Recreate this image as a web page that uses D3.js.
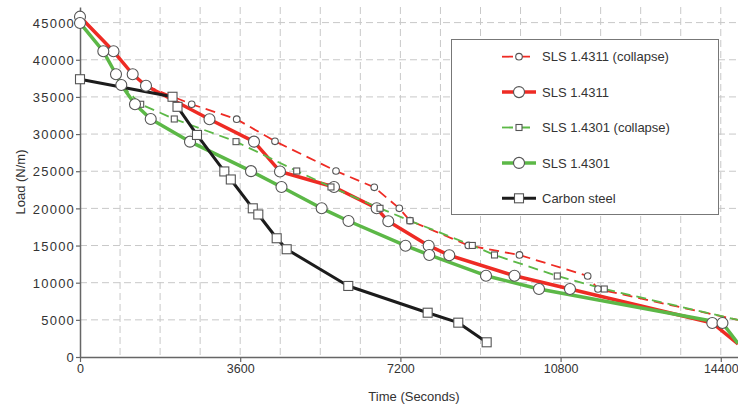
<!DOCTYPE html>
<html>
<head>
<meta charset="utf-8">
<script src="https://cdn.jsdelivr.net/npm/d3@7"></script>
<style>
  body { margin: 0; background: #fff; }
  text { font-family: "Liberation Sans", Arial, sans-serif; fill: #333; }
</style>
</head>
<body>
<div id="chart"></div>
<script>
// values (time in s, load in N/m)
const redDashTime = [1483, 2510, 3521, 4382, 5753, 6613, 7175, 7416, 8726, 9876, 11409, 11640, 14787];
const redDashLoad = [36500, 34010, 32000, 29030, 25030, 22840, 20010, 18340, 15010, 13730, 10900, 9150, 4980];

const redTime = [0, 753, 1184, 1483, 2910, 3910, 4494, 5708, 6667, 6928, 7836, 8299, 9764, 11011, 14209, 14787];
const redLoad = [45800, 41140, 38050, 36500, 31990, 28980, 24970, 22880, 20010, 18260, 14980, 13690, 10940, 9150, 4580, 1750];

const greenDashTime = [928, 1364, 2119, 3506, 4870, 5640, 6742, 7416, 8816, 9315, 10726, 11782, 14787];
const greenDashLoad = [36610, 34010, 32030, 28980, 25030, 22880, 20010, 18340, 15010, 13730, 10900, 9150, 4980];

const greenTime = [0, 524, 809, 928, 1236, 1589, 2472, 3843, 4528, 5431, 6034, 7315, 7849, 9124, 10315, 14438, 14787];
const greenLoad = [44950, 41140, 38050, 36610, 34010, 32030, 28980, 25010, 22880, 20010, 18300, 14980, 13730, 10940, 9150, 4580, 1840];

const carbonTime = [0, 2079, 2191, 2629, 3243, 3389, 3883, 4007, 4420, 4645, 6029, 7813, 8501, 9139];
const carbonLoad = [37380, 35020, 33670, 29880, 24970, 23890, 20010, 19180, 15980, 14500, 9560, 5960, 4620, 1980];

const xTicks = [0, 3600, 7200, 10800, 14400];
const yTicks = [0, 5000, 10000, 15000, 20000, 25000, 30000, 35000, 40000, 45000];

const width = 738, height = 405;
const red = "#ee2b24", green = "#5cb847", black = "#1c1c1c";

// series styles, in legend order
const series = [
  { name: "SLS 1.4311 (collapse)", t: redDashTime, v: redDashLoad, color: red, w: 1.8, dash: "10,6", mark: "circle", r: 3.3 },
  { name: "SLS 1.4311", t: redTime, v: redLoad, color: red, w: 3.5, dash: null, mark: "circle", r: 5.5 },
  { name: "SLS 1.4301 (collapse)", t: greenDashTime, v: greenDashLoad, color: green, w: 1.8, dash: "10,6", mark: "square", r: 3 },
  { name: "SLS 1.4301", t: greenTime, v: greenLoad, color: green, w: 3.5, dash: null, mark: "circle", r: 5.5 },
  { name: "Carbon steel", t: carbonTime, v: carbonLoad, color: black, w: 3, dash: null, mark: "square", r: 4.5 }
];

const svg = d3.select("#chart")
  .append("svg")
  .attr("width", width)
  .attr("height", height);

const xScale = d3.scaleLinear().domain([0, 14787]).range([80, 738]);
const yScale = d3.scaleLinear().domain([0, 47100]).range([357, 7]);

// dashed grid, every 900 s and every 5000 N/m
svg.append("g")
  .selectAll("line")
  .data(d3.range(900, 14787, 900))
  .join("line")
  .attr("x1", d => xScale(d)).attr("x2", d => xScale(d))
  .attr("y1", yScale(47100)).attr("y2", yScale(0))
  .attr("stroke", "#c8c8c8")
  .attr("stroke-dasharray", "7,4");

svg.append("g")
  .selectAll("line")
  .data(yTicks.slice(1))
  .join("line")
  .attr("x1", xScale(0)).attr("x2", xScale(14787))
  .attr("y1", d => yScale(d)).attr("y2", d => yScale(d))
  .attr("stroke", "#c8c8c8")
  .attr("stroke-dasharray", "7,4");

// axes
const xAxis = svg.append("g")
  .attr("transform", `translate(0, ${yScale(0)})`)
  .call(d3.axisBottom(xScale).tickValues(xTicks).tickSize(5).tickSizeOuter(0).tickFormat(d3.format("d")));
xAxis.selectAll("text").attr("y", 16).attr("dy", 0).style("font-size", "12.5px");

const yAxis = svg.append("g")
  .attr("transform", `translate(${xScale(0)}, 0)`)
  .call(d3.axisLeft(yScale).tickValues(yTicks).tickSize(4).tickSizeOuter(0).tickFormat(d3.format("d")));
yAxis.selectAll("text").attr("x", -5).attr("dy", "0.36em")
  .style("font-size", "13px").style("letter-spacing", "1.2px");

svg.selectAll(".domain").attr("stroke", "#666").attr("stroke-width", 1.5);
svg.selectAll(".tick line").attr("stroke", "#666").attr("stroke-width", 1.2);
svg.selectAll(".tick text").style("fill", "#333").style("font-family", "'Liberation Sans', Arial, sans-serif");

// axis titles
svg.append("text")
  .attr("x", 414)
  .attr("y", 401)
  .attr("text-anchor", "middle")
  .style("font-size", "13px")
  .text("Time (Seconds)");

svg.append("text")
  .attr("transform", "translate(25, 182) rotate(-90)")
  .attr("text-anchor", "middle")
  .style("font-size", "13px")
  .text("Load (N/m)");

// clip the lines to the plot (lines run off the right edge)
svg.append("clipPath").attr("id", "plot")
  .append("rect").attr("x", 60).attr("y", 0).attr("width", 680).attr("height", 358);

const lineGen = d3.line()
  .x(d => xScale(d.t))
  .y(d => yScale(d.v));

const plot = svg.append("g").attr("clip-path", "url(#plot)");

series.forEach(s => {
  s.points = s.t.map((t, i) => ({ t: t, v: s.v[i] }));
  plot.append("path")
    .datum(s.points)
    .attr("d", lineGen)
    .attr("fill", "none")
    .attr("stroke", s.color)
    .attr("stroke-width", s.w)
    .attr("stroke-dasharray", s.dash)
    .attr("stroke-linejoin", "round");
});

function drawMark(g, s, cx, cy) {
  if (s.mark === "circle") {
    g.append("circle")
      .attr("cx", cx).attr("cy", cy).attr("r", s.r)
      .attr("fill", "#fff").attr("stroke", "#555").attr("stroke-width", 1.1);
  } else {
    g.append("rect")
      .attr("x", cx - s.r).attr("y", cy - s.r)
      .attr("width", s.r * 2).attr("height", s.r * 2)
      .attr("fill", "#fff").attr("stroke", "#555").attr("stroke-width", 1.1);
  }
}

// markers on top of all lines, skip the points at the cut edge
series.forEach(s => {
  const g = plot.append("g");
  s.points.filter(d => d.t < 14700).forEach(d => drawMark(g, s, xScale(d.t), yScale(d.v)));
});

// legend
const legend = svg.append("g");
legend.append("rect")
  .attr("x", 451.5).attr("y", 39.5)
  .attr("width", 267).attr("height", 175)
  .attr("fill", "#fff")
  .attr("stroke", "#777");

series.forEach((s, i) => {
  const ly = 56.7 + i * 35.4;
  legend.append("line")
    .attr("x1", 502).attr("x2", 536)
    .attr("y1", ly).attr("y2", ly)
    .attr("stroke", s.color)
    .attr("stroke-width", s.w)
    .attr("stroke-dasharray", s.dash ? "11,6" : null);
  drawMark(legend, s, 519, ly);
  legend.append("text")
    .attr("x", 542)
    .attr("y", ly)
    .attr("dy", "0.36em")
    .style("font-size", "13px")
    .text(s.name);
});
</script>
</body>
</html>
